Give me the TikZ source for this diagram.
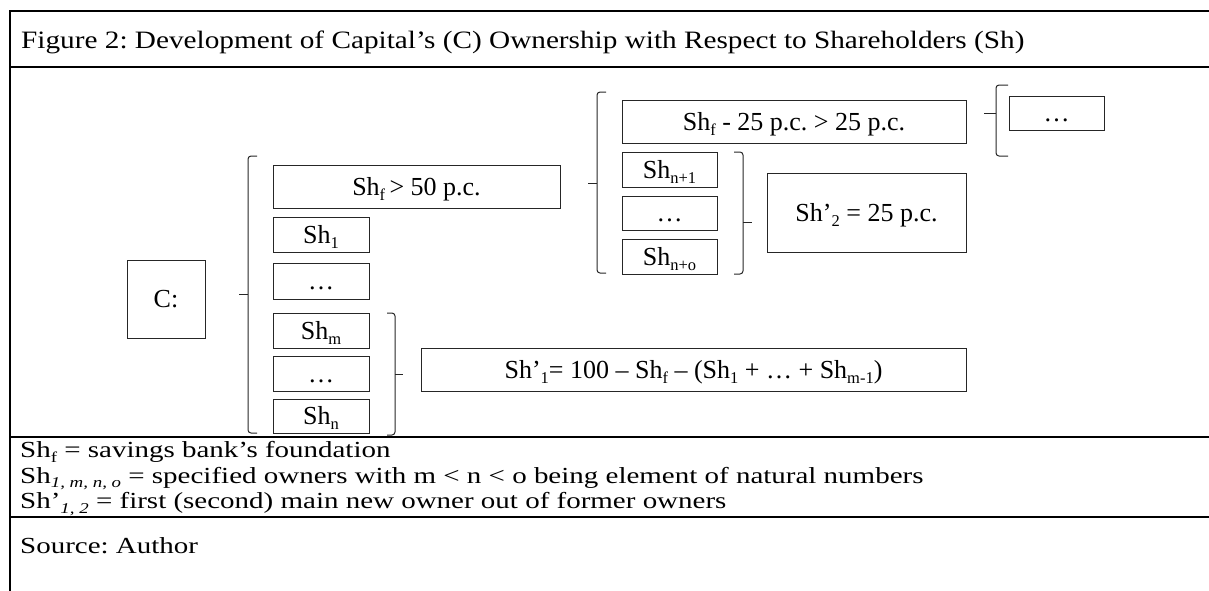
\documentclass[tikz,border=0pt]{standalone}
\usepackage{fontspec}
\setmainfont{Liberation Serif}
\newfontfamily\ttlfont[FakeStretch=1.17]{Liberation Serif}
\newfontfamily\lgdfont[FakeStretch=1.26]{Liberation Serif}
\frenchspacing
\newcommand{\sbs}[1]{\raisebox{-0.2em}{\fontsize{16.5}{18}\selectfont #1}}
\newcommand{\sbl}[1]{\raisebox{-0.2em}{\fontsize{15}{16}\selectfont #1}}
\newcommand{\sbli}[1]{\raisebox{-0.2em}{\fontsize{15}{16}\selectfont\itshape #1}}
\newcommand{\braceL}[5]{% x, top, bottom, mid, hook
  \draw[brc] ({#1+#5},#2) -- (#1,#2) -- (#1,#3) -- ({#1+#5},#3);
  \draw[brc] (#1,#4) -- ({#1-#5},#4);}
\newcommand{\braceR}[5]{%
  \draw[brc] ({#1-#5},#2) -- (#1,#2) -- (#1,#3) -- ({#1-#5},#3);
  \draw[brc] (#1,#4) -- ({#1+#5},#4);}
\begin{document}
\begin{tikzpicture}[x=1pt,y=-1pt,
  txt/.style={font=\fontsize{26}{30}\selectfont, inner sep=0pt},
  bx/.style={txt, draw=black!85, line width=1pt, text height=17pt, text depth=0pt, anchor=center},
  ttl/.style={inner sep=0pt, anchor=base west, font=\ttlfont\fontsize{25}{28}\selectfont},
  lgd/.style={inner sep=0pt, anchor=base west, font=\lgdfont\fontsize{23}{26}\selectfont},
  rule/.style={line width=2pt, line cap=rect},
  brc/.style={line width=1pt, draw=black!85, rounded corners=3pt}]
\useasboundingbox (0,0) rectangle (1209,590);
% table rules
\draw[rule] (10,11) -- (1209,11);
\draw[rule] (10,67) -- (1209,67);
\draw[rule] (10,437) -- (1209,437);
\draw[rule] (10,517) -- (1209,517);
\draw[rule] (10,11) -- (10,592);
% title
\node[ttl] (title) at (21,48) {Figure 2: Development of Capital’s (C) Ownership with Respect to Shareholders (Sh)};
% boxes
\node[bx, minimum width=78pt, minimum height=78pt] (C) at (166,299) {C:};
\node[bx, minimum width=287pt, minimum height=43pt] (f50) at (416.5,186.5) {Sh\sbs{f}\,> 50 p.c.};
\node[bx, minimum width=96pt, minimum height=35pt] (sh1) at (321,234.5) {Sh\sbs{1}};
\node[bx, minimum width=96pt, minimum height=36pt] (d1) at (321,281) {…};
\node[bx, minimum width=96pt, minimum height=35pt] (shm) at (321,330.5) {Sh\sbs{m}};
\node[bx, minimum width=96pt, minimum height=35pt] (d2) at (321,373.5) {…};
\node[bx, minimum width=96pt, minimum height=34pt] (shn) at (321,416) {Sh\sbs{n}};
\node[bx, minimum width=344pt, minimum height=43pt] (f25) at (794,121.5) {Sh\sbs{f} - 25 p.c. > 25 p.c.};
\node[bx, minimum width=95pt, minimum height=35pt] (shn1) at (669.5,169.5) {Sh\sbs{n+1}};
\node[bx, minimum width=95pt, minimum height=34pt] (d3) at (669.5,213) {…};
\node[bx, minimum width=95pt, minimum height=35pt] (shno) at (669.5,256.5) {Sh\sbs{n+o}};
\node[bx, minimum width=199pt, minimum height=79pt] (sh2) at (866.5,212.5) {Sh’\sbs{2} = 25 p.c.};
\node[bx, minimum width=95pt, minimum height=34pt] (d4) at (1056.5,113) {…};
\node[bx, minimum width=545pt, minimum height=43pt] (sh1p) at (693.5,369.5) {Sh’\sbs{1}= 100 – Sh\sbs{f} – (Sh\sbs{1} + … + Sh\sbs{m-1})};
% braces
\braceL{248}{156}{433}{294}{9}
\braceL{597}{92}{273}{183}{9}
\braceR{743}{152}{274}{222}{9}
\braceL{996}{85}{156}{113}{12}
\braceR{395}{313}{435}{374}{8}
% legend
\node[lgd] (l1) at (20,457.5) {Sh\sbl{f} = savings bank’s foundation};
\node[lgd] (l2) at (20,483) {Sh\sbli{1, m, n, o} = specified owners with m < n < o being element of natural numbers};
\node[lgd] (l3) at (20,508.5) {Sh’\sbli{1, 2} = first (second) main new owner out of former owners};
\node[lgd] (src) at (20,553) {Source: Author};
\end{tikzpicture}
\end{document}
